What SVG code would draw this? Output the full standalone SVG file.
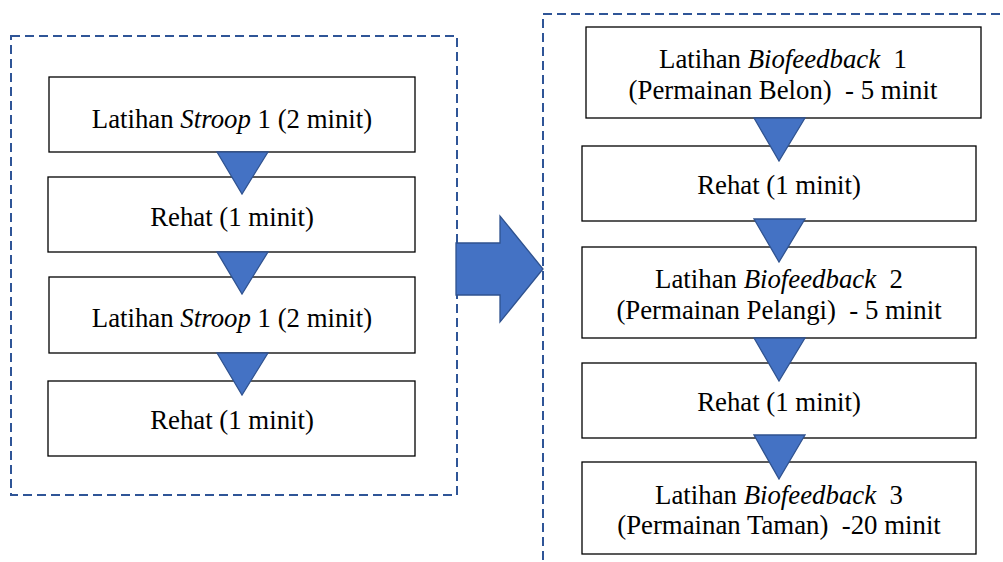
<svg xmlns="http://www.w3.org/2000/svg" width="1003" height="562" viewBox="0 0 1003 562">
<style>
.frame{fill:none;stroke:#2F5597;stroke-width:2;stroke-dasharray:9 5}
.box{fill:#fff;stroke:#000;stroke-width:1.3}
.tri{fill:#4472C4;stroke:#2F528F;stroke-width:1.3}
text{font-size:26.8px;fill:#000;text-anchor:middle;white-space:pre}
.it{font-style:italic}
</style>
<rect width="1003" height="562" fill="#fff"/>
<g id="frames">
<rect class="frame" x="11" y="36" width="446" height="459"/>
<rect class="frame" x="543" y="14" width="520" height="600"/>
</g>
<g id="nodes" font-family="'Liberation Serif', serif">
<g id="L1"><rect class="box" x="49" y="77" width="366" height="75"/><text x="232" y="128">Latihan <tspan class="it">Stroop</tspan> 1 (2 minit)</text></g>
<g id="L2"><rect class="box" x="48" y="177" width="367" height="75"/><text x="232" y="226">Rehat (1 minit)</text></g>
<g id="L3"><rect class="box" x="49" y="277" width="366" height="76"/><text x="232" y="327">Latihan <tspan class="it">Stroop</tspan> 1 (2 minit)</text></g>
<g id="L4"><rect class="box" x="48" y="381" width="367" height="75"/><text x="232" y="429">Rehat (1 minit)</text></g>
<g id="R1"><rect class="box" x="586" y="27" width="395" height="91"/><text x="783" y="68">Latihan <tspan class="it">Biofeedback</tspan>  1</text><text x="783" y="99">(Permainan Belon)  - 5 minit</text></g>
<g id="R2"><rect class="box" x="582" y="146" width="394" height="75"/><text x="779" y="194">Rehat (1 minit)</text></g>
<g id="R3"><rect class="box" x="582" y="247" width="394" height="91"/><text x="779" y="288">Latihan <tspan class="it">Biofeedback</tspan>  2</text><text x="779" y="319">(Permainan Pelangi)  - 5 minit</text></g>
<g id="R4"><rect class="box" x="582" y="363" width="394" height="75"/><text x="779" y="411">Rehat (1 minit)</text></g>
<g id="R5"><rect class="box" x="582" y="462" width="394" height="92"/><text x="779" y="504">Latihan <tspan class="it">Biofeedback</tspan>  3</text><text x="779" y="534">(Permainan Taman)  -20 minit</text></g>
</g>
<g id="connectors">
<polygon class="tri" points="217,152 268,152 242,194"/>
<polygon class="tri" points="217,252 268,252 242,294"/>
<polygon class="tri" points="217,353 268,353 242,395"/>
<polygon class="tri" points="754,118 805,118 779,161"/>
<polygon class="tri" points="754,219 805,219 779,262"/>
<polygon class="tri" points="754,338 805,338 779,381"/>
<polygon class="tri" points="754,435 805,435 779,479"/>
<polygon class="tri" points="456,243 500,243 500,216 543,269 500,322 500,295 456,295"/>
</g>
</svg>
